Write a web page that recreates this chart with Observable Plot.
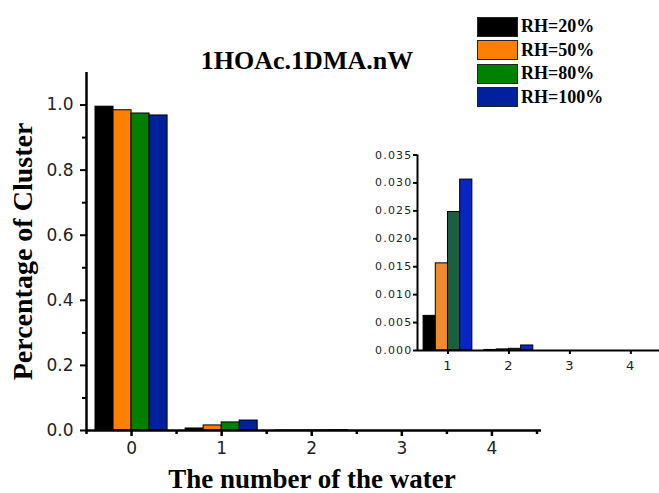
<!DOCTYPE html>
<html><head><meta charset="utf-8">
<script src="https://cdn.jsdelivr.net/npm/d3@7"></script>
<script src="https://cdn.jsdelivr.net/npm/@observablehq/plot@0.6"></script>
<style>
body{margin:0;background:#fff}
#wrap{position:relative;width:659px;height:493px;overflow:hidden;background:#fff}
#wrap svg{position:absolute}
#legend{position:absolute;left:477px;top:15px;font-family:"Liberation Serif",serif;font-weight:bold;font-size:18px;color:#000}
#legend .row{display:flex;align-items:center;height:23.5px}
#legend .sw{width:39px;height:18px;border:1.5px solid #222;margin-right:3px}
</style></head><body><div id="wrap"></div>
<script>
const waters = [0, 1, 2, 3, 4];
const humidities = ["RH=20%", "RH=50%", "RH=80%", "RH=100%"];
const rh20 = [0.995, 0.0062, 0.0001, 0, 0];
const rh50 = [0.984, 0.0156, 0.0002, 0, 0];
const rh80 = [0.974, 0.0248, 0.0003, 0, 0];
const rh100 = [0.968, 0.0306, 0.0009, 0, 0];
const yTicks = [0, 0.2, 0.4, 0.6, 0.8, 1.0];
const yMinor = [0.1, 0.3, 0.5, 0.7, 0.9];
const xTicks = [0, 1, 2, 3, 4];
const xMinor = [-0.5, 0.5, 1.5, 2.5, 3.5, 4.5];
const insetYTicks = [0, 0.005, 0.01, 0.015, 0.02, 0.025, 0.03, 0.035];
const insetXTicks = [1, 2, 3, 4];
const colors = ["#000000", "#ff7f00", "#007f00", "#00209c"];
const insetColors = ["#000000", "#f08a2a", "#1b5e40", "#0826c4"];

const series = [rh20, rh50, rh80, rh100];
const rows = [];
waters.forEach((w, j) => series.forEach((s, i) => rows.push({
  water: w, rh: humidities[i], value: s[j],
  x1: w + (i - 2) * 0.2, x2: w + (i - 1) * 0.2
})));

const serif = "Liberation Serif";
const main = Plot.plot({
  width: 659, height: 493,
  marginLeft: 86, marginRight: 118, marginTop: 72, marginBottom: 63,
  x: {domain: [-0.5, 4.55], label: null},
  y: {domain: [0, 1.1], label: null},
  color: {domain: humidities, range: colors},
  style: {fontFamily: "DejaVu Sans", fontSize: "17px", color: "#222", background: "white"},
  marks: [
    Plot.rect(rows, {x1: "x1", x2: "x2", y1: 0, y2: "value", fill: "rh", stroke: "#000", strokeWidth: 1}),
    Plot.axisY(yTicks, {tickSize: 6, tickPadding: 7, strokeWidth: 2, stroke: "#000", tickFormat: d3.format(".1f"), label: null, fontSize: 17}),
    Plot.axisY(yMinor, {tickSize: 4, strokeWidth: 2, stroke: "#000", tickFormat: () => "", label: null}),
    Plot.axisX(xTicks, {tickSize: 6, tickPadding: 5, strokeWidth: 2.5, stroke: "#000", label: null, fontSize: 17}),
    Plot.axisX(xMinor, {tickSize: 4, strokeWidth: 2.5, stroke: "#000", tickFormat: () => "", label: null}),
    Plot.ruleX([-0.5], {stroke: "#000", strokeWidth: 2.5}),
    Plot.ruleY([0], {stroke: "#000", strokeWidth: 2.5}),
    Plot.text(["1HOAc.1DMA.nW"], {frameAnchor: "top", lineAnchor: "middle", textAnchor: "middle", dx: -7, dy: -12, fontFamily: serif, fontWeight: "bold", fontSize: 26, fill: "#000"}),
    Plot.text(["The number of the water"], {frameAnchor: "bottom", lineAnchor: "middle", textAnchor: "middle", dx: -2, dy: 49, fontFamily: serif, fontWeight: "bold", fontSize: 27, fill: "#000"}),
    Plot.text(["Percentage of Cluster"], {frameAnchor: "left", lineAnchor: "middle", textAnchor: "middle", rotate: -90, dx: -63, fontFamily: serif, fontWeight: "bold", fontSize: 28, fill: "#000"})
  ]
});
main.style.left = "0px"; main.style.top = "0px";

const insetRows = rows.filter(d => d.water >= 1);
const inset = Plot.plot({
  width: 299, height: 240,
  marginLeft: 57, marginRight: 0, marginTop: 14.5, marginBottom: 30,
  x: {domain: [0.5, 4.47], label: null},
  y: {domain: [0, 0.035], label: null},
  color: {domain: humidities, range: insetColors},
  style: {fontFamily: "DejaVu Sans", fontSize: "11px", color: "#222", background: "none", letterSpacing: "1.2px"},
  marks: [
    Plot.rect(insetRows, {x1: "x1", x2: "x2", y1: 0, y2: "value", fill: "rh", stroke: "#000", strokeWidth: 1}),
    Plot.axisY(insetYTicks, {tickSize: 4, tickPadding: 1, strokeWidth: 2, stroke: "#000", tickFormat: d3.format(".3f"), label: null, fontSize: 11}),
    Plot.axisX(insetXTicks, {tickSize: 4, tickPadding: 6, strokeWidth: 2, stroke: "#000", label: null, fontSize: 13}),
    Plot.ruleX([0.5], {stroke: "#000", strokeWidth: 2}),
    Plot.ruleY([0], {stroke: "#000", strokeWidth: 2})
  ]
});
inset.style.left = "360px"; inset.style.top = "140px";

const wrap = document.getElementById("wrap");
wrap.appendChild(main);
wrap.appendChild(inset);

const legend = document.createElement("div");
legend.id = "legend";
humidities.forEach((h, i) => {
  const row = document.createElement("div");
  row.className = "row";
  const sw = document.createElement("div");
  sw.className = "sw";
  sw.style.background = colors[i];
  const t = document.createElement("span");
  t.textContent = h;
  row.appendChild(sw); row.appendChild(t);
  legend.appendChild(row);
});
wrap.appendChild(legend);
</script>
</body></html>
